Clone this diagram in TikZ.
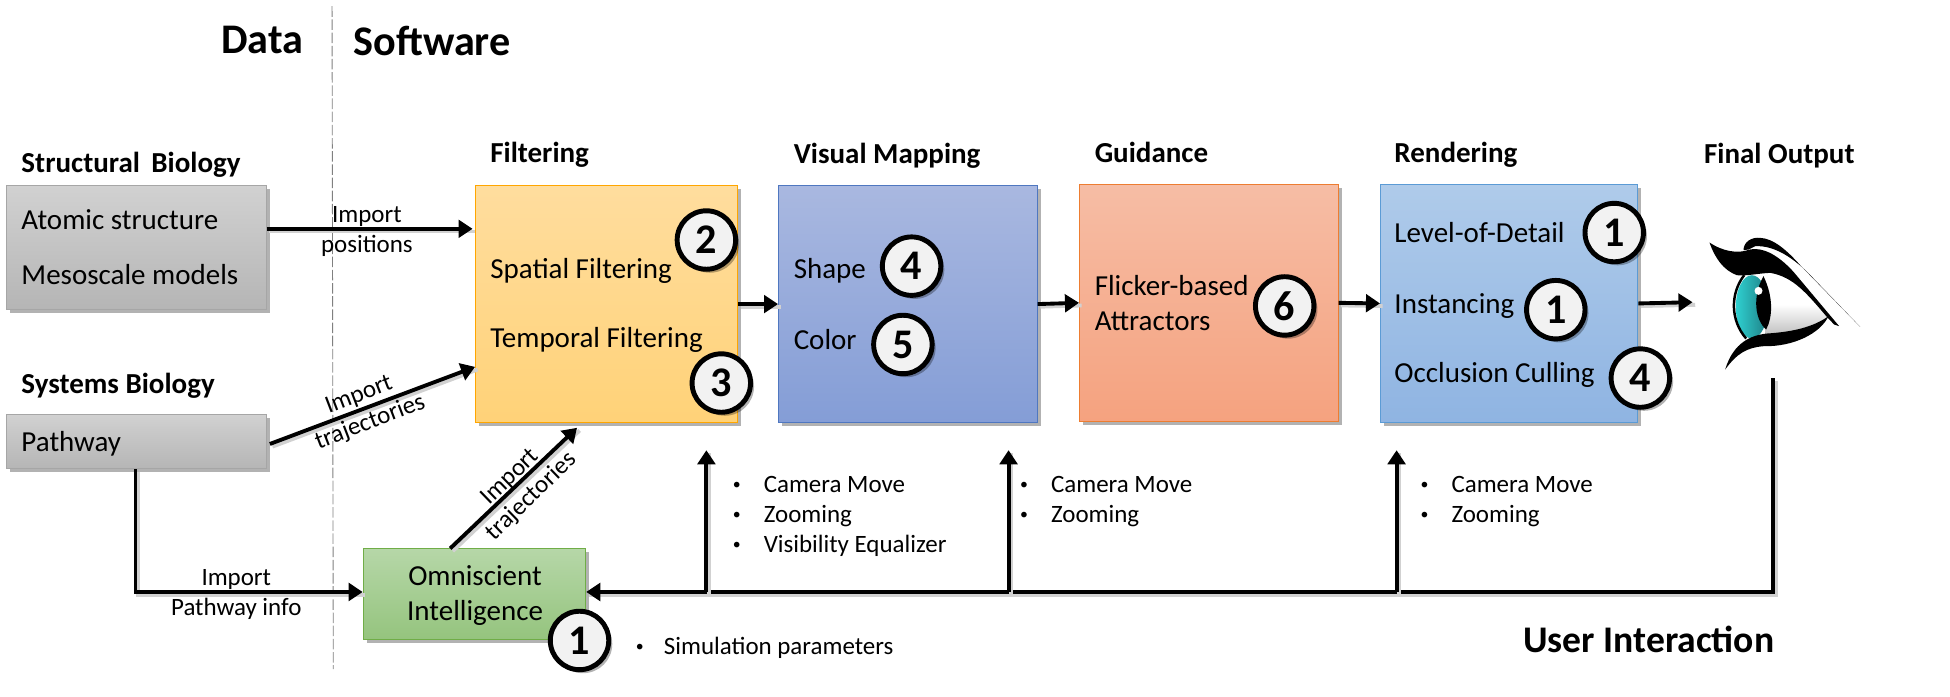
\documentclass[tikz,border=0pt]{standalone}
\usepackage{fontspec}
\setmainfont{Carlito}
\usetikzlibrary{arrows.meta,shadows}

\newcommand{\pxunit}{0.024872cm}
\newcommand{\smallbullet}{\raisebox{1.5pt}{\fontsize{9}{9}\selectfont\textbullet}}
\newcommand{\bulletrow}[1]{\makebox[17.6pt][l]{\smallbullet}#1}

\definecolor{circlefill}{HTML}{F2F2F2}

\tikzset{
  softshadow/.style={drop shadow={shadow xshift=2pt,shadow yshift=-2pt,fill=black,opacity=0.3}},
  panel/.style={draw=#1,line width=0.5pt,softshadow,inner sep=0pt},
  graybox/.style={panel=black!35,top color=black!18,bottom color=black!29},
  filterbox/.style={panel=orange!70!yellow,top color=filterA,bottom color=filterB},
  mapbox/.style={panel=mapL,top color=mapA,bottom color=mapB},
  guidebox/.style={panel=guideL,top color=guideA,bottom color=guideB},
  renderbox/.style={panel=renderL,top color=renderA,bottom color=renderB},
  omnibox/.style={panel=omniL,top color=omniA,bottom color=omniB},
  bodytext/.style={font=\fontsize{16.5}{18}\selectfont,text height=12.5pt,text depth=1.5pt,inner sep=0pt},
  smalltext/.style={font=\fontsize{14.2}{16}\selectfont,text height=11.5pt,text depth=1.5pt,inner sep=0pt},
  titletext/.style={font=\fontsize{16.5}{18}\selectfont\bfseries,text height=12.5pt,text depth=1.5pt,inner sep=0pt,anchor=west},
  bigtitle/.style={font=\fontsize{24}{26}\selectfont\bfseries,inner sep=0pt},
  badge/.style={circle,draw=black,line width=2.8pt,fill=circlefill,minimum size=47*\pxunit,inner sep=0pt,
    font=\fontsize{24}{26}\selectfont\bfseries,softshadow},
  flow/.style={line width=2.2pt,-{Triangle[length=8pt,width=10pt]},
    preaction={draw=black!18,line width=2.2pt,-,transform canvas={xshift=1.5pt,yshift=-1.5pt}}}
}
\definecolor{filterA}{HTML}{FFDD9E}
\definecolor{filterB}{HTML}{FFD278}
\definecolor{mapA}{HTML}{A9B8E0}
\definecolor{mapB}{HTML}{849DD6}
\definecolor{mapL}{HTML}{4F77C0}
\definecolor{guideA}{HTML}{F6BDA5}
\definecolor{guideB}{HTML}{F5A27F}
\definecolor{guideL}{HTML}{ED7D31}
\definecolor{renderA}{HTML}{AFCBEA}
\definecolor{renderB}{HTML}{8FB4E2}
\definecolor{renderL}{HTML}{5B9BD5}
\definecolor{omniA}{HTML}{B6D7A8}
\definecolor{omniB}{HTML}{95C47E}
\definecolor{omniL}{HTML}{70AD47}
\definecolor{irisA}{HTML}{2FD0D0}
\definecolor{irisB}{HTML}{1F7F85}

\begin{document}
\begin{tikzpicture}[x=\pxunit,y=-\pxunit]
\useasboundingbox (0,0) rectangle (1568,560.46);

% Heading
\coordinate (splitTop) at (267,5);
\coordinate (splitBottom) at (268,538);
\draw [gray,line width=0.5pt,dash pattern=on 6pt off 1.5pt] (splitTop) -- (splitBottom);
\node [bigtitle,anchor=east] (dataTitle) at (244,32) {Data};
\node [bigtitle,anchor=west] (softwareTitle) at (284,33) {Software};

% Data boxes
\node [titletext] (structTitle) at (17,131) {Structural\,\ Biology};
\node [graybox,minimum width=209*\pxunit,minimum height=100*\pxunit] (structBox) at (109.5,199) {};
\node [bodytext,anchor=west] (atomicText) at (17,177) {Atomic structure};
\node [bodytext,anchor=west] (mesoText) at (17,221) {Mesoscale models};

\node [titletext] (systemsTitle) at (17,309) {Systems Biology};
\node [graybox,minimum width=209*\pxunit,minimum height=44*\pxunit] (pathwayBox) at (109.5,355) {};
\node [bodytext,anchor=west] (pathwayText) at (17,355) {Pathway};

% Omniscient Intelligence
\node [omnibox,minimum width=179*\pxunit,minimum height=73*\pxunit] (omniBox) at (381.5,477.5) {};
\node [bodytext] (omniTextA) at (382,463) {Omniscient};
\node [bodytext] (omniTextB) at (382,491) {Intelligence};

% Filtering
\node [titletext] (filterTitle) at (394,123) {Filtering};
\node [filterbox,minimum width=211*\pxunit,minimum height=191*\pxunit] (filterBox) at (487.5,244.5) {};
\node [bodytext,anchor=west] (spatialText) at (394,216) {Spatial Filtering};
\node [bodytext,anchor=west] (temporalText) at (394,272) {Temporal Filtering};

% Visual Mapping
\node [titletext] (mapTitle) at (638,124) {Visual Mapping};
\node [mapbox,minimum width=208*\pxunit,minimum height=191*\pxunit] (mapBox) at (730,244.5) {};
\node [bodytext,anchor=west] (shapeText) at (638,216) {Shape};
\node [bodytext,anchor=west] (colorText) at (638,273) {Color};

% Guidance
\node [titletext] (guideTitle) at (880,123) {Guidance};
\node [guidebox,minimum width=208*\pxunit,minimum height=191*\pxunit] (guideBox) at (972,243.5) {};
\node [bodytext,anchor=west] (flickerText) at (880,230) {Flicker-based};
\node [bodytext,anchor=west] (attractText) at (880,258) {Attractors};

% Rendering
\node [titletext] (renderTitle) at (1121,123) {Rendering};
\node [renderbox,minimum width=207*\pxunit,minimum height=192*\pxunit] (renderBox) at (1213.5,244) {};
\node [bodytext,anchor=west] (lodText) at (1121,187) {Level-of-Detail};
\node [bodytext,anchor=west] (instanceText) at (1121,244) {Instancing};
\node [bodytext,anchor=west] (occlusionText) at (1121,300) {Occlusion Culling};

% Numbers
\node [badge] (numSpatial) at (568,193) {2};
\node [badge] (numTemporal) at (580,308) {3};
\node [badge] (numShape) at (733,214) {4};
\node [badge] (numColor) at (726,277) {5};
\node [badge] (numFlicker) at (1033,246) {6};
\node [badge] (numLod) at (1298,187) {1};
\node [badge] (numInstance) at (1251,249) {1};
\node [badge] (numOcclusion) at (1319,304) {4};
\node [badge] (numOmni) at (466,515) {1};

% Final Output
\node [titletext] (finalTitle) at (1370,124) {Final Output};
\coordinate (eyeIn) at (1361,243);
\coordinate (eyeOut) at (1426,304);
\begin{scope}[shift={(1351,169)},x=0.00667cm,y=-0.00667cm]
  \fill [white,bottom color=black!25,top color=white,middle color=white] (250,190) -- (320,195) -- (445,320) .. controls (400,350) and (340,365) .. (255,375) -- cycle;
  \shade [left color=irisA,right color=irisB] (215,290) ellipse (48 and 95);
  \fill (250,198) .. controls (280,260) and (278,320) .. (258,358) .. controls (225,330) and (215,260) .. (250,198) -- cycle;
  \fill [white] (235,242) circle (12);
  \draw [line width=1.4pt] (192,195) .. controls (150,250) and (150,330) .. (198,385);
  \fill (88,97) .. controls (130,125) and (170,128) .. (195,122) .. controls (240,105) and (290,130) .. (340,185) -- (477,348) -- (462,343) -- (440,320) .. controls (380,250) and (340,200) .. (270,188) .. controls (230,190) and (200,198) .. (170,195) .. controls (130,180) and (105,145) .. (88,97) -- cycle;
  \fill (190,120) .. controls (190,95) and (215,80) .. (240,83) .. controls (280,85) and (320,120) .. (360,165) -- (540,350) -- (400,205) .. controls (340,140) and (280,105) .. (225,108) -- (205,118) -- cycle;
  \fill (445,318) .. controls (400,350) and (340,365) .. (260,370) .. controls (215,375) and (160,395) .. (135,478) .. controls (170,430) and (200,412) .. (250,408) .. controls (340,410) and (420,370) .. (445,318) -- cycle;
\end{scope}

% Import arrows
\coordinate (positionsIn) at (380,184);
\draw [flow] (structBox.east |- positionsIn) -- (positionsIn);
\node [smalltext] (positionsA) at (295,172) {Import};
\node [smalltext] (positionsB) at (295,196) {positions};

\coordinate (trajOut) at (217,357);
\coordinate (trajIn) at (382,295);
\draw [flow] (trajOut) -- (trajIn);
\node [smalltext,rotate=21] (trajA) at (288,316) {Import};
\node [smalltext,rotate=21] (trajB) at (297,338) {trajectories};

\coordinate (pathwayCorner) at (109,476);
\draw [flow] (pathwayBox.south -| pathwayCorner) -- (pathwayCorner) -- (omniBox.west |- pathwayCorner);
\node [smalltext] (infoA) at (190,464) {Import};
\node [smalltext] (infoB) at (190,488) {Pathway info};

\coordinate (omniOut) at (362,441);
\coordinate (omniIn) at (464,344);
\draw [flow] (omniOut) -- (omniIn);
\node [smalltext,rotate=44] (omniLabelA) at (409,382) {Import};
\node [smalltext,rotate=44] (omniLabelB) at (426,398) {trajectories};

% Pipeline arrows
\draw [flow] (filterBox.east) -- (mapBox.west);
\draw [flow] (mapBox.east) -- (guideBox.west);
\draw [flow] (guideBox.east) -- (renderBox.west);
\draw [flow] (renderBox.east) -- (eyeIn);

% User Interaction
\coordinate (feedbackCorner) at (1426,476);
\draw [flow] (eyeOut) -- (feedbackCorner) -- (omniBox.east |- feedbackCorner);
\coordinate (filterUpBase) at (568,476);
\coordinate (filterUp) at (568,362);
\coordinate (mapUpBase) at (811,476);
\coordinate (mapUp) at (811,362);
\coordinate (renderUpBase) at (1123,476);
\coordinate (renderUp) at (1123,362);
\draw [flow] (filterUpBase) -- (filterUp);
\draw [flow] (mapUpBase) -- (mapUp);
\draw [flow] (renderUpBase) -- (renderUp);
\node [bigtitle,font=\fontsize{21.4}{24}\selectfont\bfseries,anchor=east] (userTitle) at (1427,514) {User Interaction};

% Interaction lists
\node [smalltext,anchor=west] (filterItemA) at (589,389) {\bulletrow{Camera Move}};
\node [smalltext,anchor=west] (filterItemB) at (589,413) {\bulletrow{Zooming}};
\node [smalltext,anchor=west] (filterItemC) at (589,437) {\bulletrow{Visibility Equalizer}};
\node [smalltext,anchor=west] (mapItemA) at (820,389) {\bulletrow{Camera Move}};
\node [smalltext,anchor=west] (mapItemB) at (820,413) {\bulletrow{Zooming}};
\node [smalltext,anchor=west] (renderItemA) at (1142,389) {\bulletrow{Camera Move}};
\node [smalltext,anchor=west] (renderItemB) at (1142,413) {\bulletrow{Zooming}};
\node [smalltext,anchor=west] (simItem) at (511,519) {\makebox[16pt][l]{\smallbullet}Simulation parameters};

\end{tikzpicture}
\end{document}
